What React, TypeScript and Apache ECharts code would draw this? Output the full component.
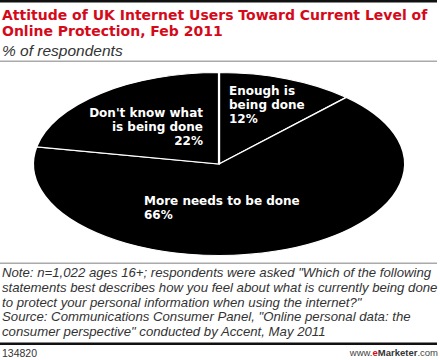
import React, { useEffect, useRef } from "react";
import * as echarts from "echarts";

const titleLines = [
  "Attitude of UK Internet Users Toward Current Level of",
  "Online Protection, Feb 2011",
];
const subtitle = "% of respondents";
const categories = [
  "Enough is\nbeing done",
  "More needs to be done",
  "Don't know what\nis being done",
];
const values = [12, 66, 22];
const noteLines = [
  'Note: n=1,022 ages 16+; respondents were asked "Which of the following',
  "statements best describes how you feel about what is currently being done",
  'to protect your personal information when using the internet?"',
  'Source: Communications Consumer Panel, "Online personal data: the',
  'consumer perspective" conducted by Accent, May 2011',
];
const chartId = "134820";

// layout
const CX = 219;
const CY = 164;
const RX = 186;
const RY = 91.5;
const labelLayout = [
  { dx: 10, dy: -59.5, align: "left" },
  { dx: -75, dy: 44, align: "left" },
  { dx: -16, dy: -37, align: "right" },
];

export default function App() {
  const ref = useRef<HTMLDivElement>(null);
  useEffect(() => {
    if (!ref.current) return;
    const chart = echarts.init(ref.current, null, { renderer: "svg" });
    const total = values.reduce((a, b) => a + b, 0);

    const graphics: any[] = [
      { type: "rect", shape: { x: 0, y: 0, width: 437, height: 2.5 }, style: { fill: "#111" } },
      ...titleLines.map((t, i) => ({
        type: "text",
        style: {
          text: t,
          x: 2,
          y: 15 + i * 16,
          fill: "#d40a1a",
          fontSize: 14,
          fontWeight: "bold",
          fontFamily: "DejaVu Sans",
          verticalAlign: "middle",
        },
      })),
      {
        type: "text",
        style: {
          text: subtitle,
          x: 2,
          y: 50,
          fill: "#333",
          fontSize: 15.5,
          fontStyle: "italic",
          fontFamily: "Liberation Sans",
          verticalAlign: "middle",
        },
      },
      { type: "rect", shape: { x: 0, y: 60.5, width: 437, height: 1.5 }, style: { fill: "#aaa" } },
      { type: "rect", shape: { x: 0, y: 262.5, width: 437, height: 1.5 }, style: { fill: "#aaa" } },
      ...noteLines.map((t, i) => ({
        type: "text",
        style: {
          text: t,
          x: 2,
          y: 272.5 + i * 14.8,
          fill: "#333",
          fontSize: 13.2,
          fontStyle: "italic",
          fontFamily: "Liberation Sans",
          verticalAlign: "middle",
        },
      })),
      { type: "rect", shape: { x: 0, y: 342.5, width: 437, height: 2.5 }, style: { fill: "#111" } },
      {
        type: "text",
        style: {
          text: chartId,
          x: 2,
          y: 353,
          fill: "#333",
          fontSize: 10.5,
          fontFamily: "Liberation Sans",
          verticalAlign: "middle",
        },
      },
      {
        type: "text",
        style: {
          text: "{a|www.}{b|e}{c|Marketer}{a|.com}",
          x: 438,
          y: 352.5,
          align: "right",
          verticalAlign: "middle",
          rich: {
            a: { fontSize: 9.5, fontFamily: "Liberation Sans", fill: "#444" },
            b: { fontSize: 9.5, fontFamily: "Liberation Sans", fontWeight: "bold", fill: "#d40a1a" },
            c: { fontSize: 9.5, fontFamily: "Liberation Sans", fontWeight: "bold", fill: "#333" },
          },
        },
      },
    ];

    chart.setOption({
      animation: false,
      backgroundColor: "#fff",
      graphic: graphics,
      series: [
        {
          type: "custom",
          coordinateSystem: "none",
          silent: true,
          data: values.map((v, i) => ({ name: categories[i], value: v })),
          renderItem: (params: any, api: any) => {
            const i = params.dataIndex;
            const v = api.value(0);
            const before = values.slice(0, i).reduce((a, b) => a + b, 0);
            const start = -Math.PI / 2 + (before / total) * Math.PI * 2;
            const end = start + (v / total) * Math.PI * 2;
            const lay = labelLayout[i];
            return {
              type: "group",
              children: [
                {
                  type: "sector",
                  x: CX,
                  y: CY,
                  scaleY: RY / RX,
                  shape: { cx: 0, cy: 0, r0: 0, r: RX, startAngle: start, endAngle: end, clockwise: true },
                  style: { fill: "#000", stroke: "#fff", lineWidth: 2.2, strokeNoScale: true },
                },
                {
                  type: "text",
                  z2: 10,
                  style: {
                    text: categories[i] + "\n" + v + "%",
                    x: CX + lay.dx,
                    y: CY + lay.dy,
                    fill: "#fff",
                    fontSize: 12,
                    fontWeight: "bold",
                    fontFamily: "DejaVu Sans",
                    lineHeight: 14,
                    align: lay.align,
                    verticalAlign: "middle",
                  },
                },
              ],
            };
          },
        },
      ],
    });
    return () => chart.dispose();
  }, []);
  return (
    <div
      ref={ref}
      style={{ position: "absolute", left: 0, top: 0, width: 440, height: 360 }}
    />
  );
}
